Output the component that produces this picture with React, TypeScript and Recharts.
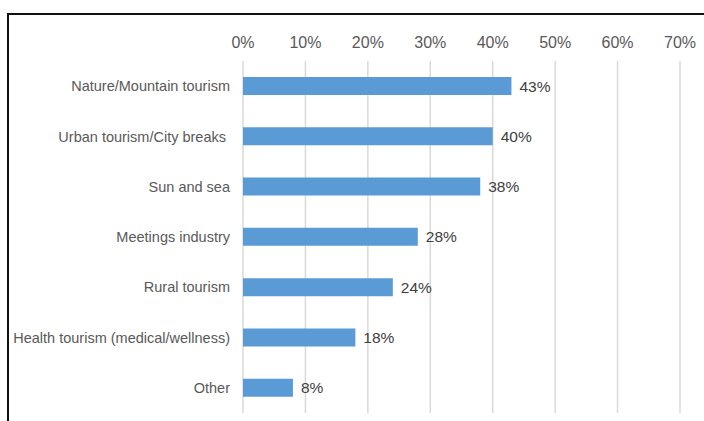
import React from 'react';
import { BarChart, Bar, XAxis, YAxis, CartesianGrid, LabelList } from 'recharts';

const categories = [
  'Nature/Mountain tourism',
  'Urban tourism/City breaks\u00a0',
  'Sun and sea',
  'Meetings industry',
  'Rural tourism',
  'Health tourism (medical/wellness)',
  'Other',
];
const shares = [0.43, 0.4, 0.38, 0.28, 0.24, 0.18, 0.08];
const xTicks = [0, 0.1, 0.2, 0.3, 0.4, 0.5, 0.6, 0.7];

const data = categories.map((name, i) => ({ name, value: shares[i] }));

const pct = (v: number) => `${Math.round(v * 100)}%`;
const font = '"Liberation Sans", Arial, sans-serif';

export default function App() {
  return (
    <div style={{ position: 'absolute', left: 0, top: 0, width: 704, height: 421, overflow: 'hidden', background: '#fff', fontFamily: font }}>
      {/* frame of the figure box, cut off at right and bottom */}
      <div
        style={{
          position: 'absolute',
          left: 7,
          top: 13,
          width: 720,
          height: 440,
          borderLeft: '2px solid #111',
          borderTop: '2px solid #111',
        }}
      />
      <BarChart
        width={704}
        height={421}
        data={data}
        layout="vertical"
        margin={{ top: 31, right: 24, left: 0, bottom: 8 }}
        barSize={18}
        style={{ position: 'absolute', left: 0, top: 0 }}
      >
        <CartesianGrid horizontal={false} stroke="#d9d9d9" strokeWidth={1.5} />
        <XAxis
          type="number"
          orientation="top"
          domain={[0, 0.7]}
          ticks={xTicks}
          tickFormatter={pct}
          axisLine={false}
          tickLine={false}
          height={30}
          tickSize={0}
          tickMargin={13}
          tick={{ fill: '#595959', fontSize: 16, fontFamily: font }}
        />
        <YAxis
          type="category"
          dataKey="name"
          width={243}
          axisLine={false}
          tickLine={false}
          tickSize={0}
          tickMargin={13}
          interval={0}
          tick={{ fill: '#595959', fontSize: 14.5, fontFamily: font }}
        />
        <Bar dataKey="value" fill="#5b9bd5" isAnimationActive={false}>
          <LabelList
            dataKey="value"
            position="right"
            offset={8}
            formatter={(v: any) => pct(Number(v))}
            style={{ fill: '#404040', fontSize: 15.5, fontFamily: font }}
          />
        </Bar>
      </BarChart>
    </div>
  );
}
